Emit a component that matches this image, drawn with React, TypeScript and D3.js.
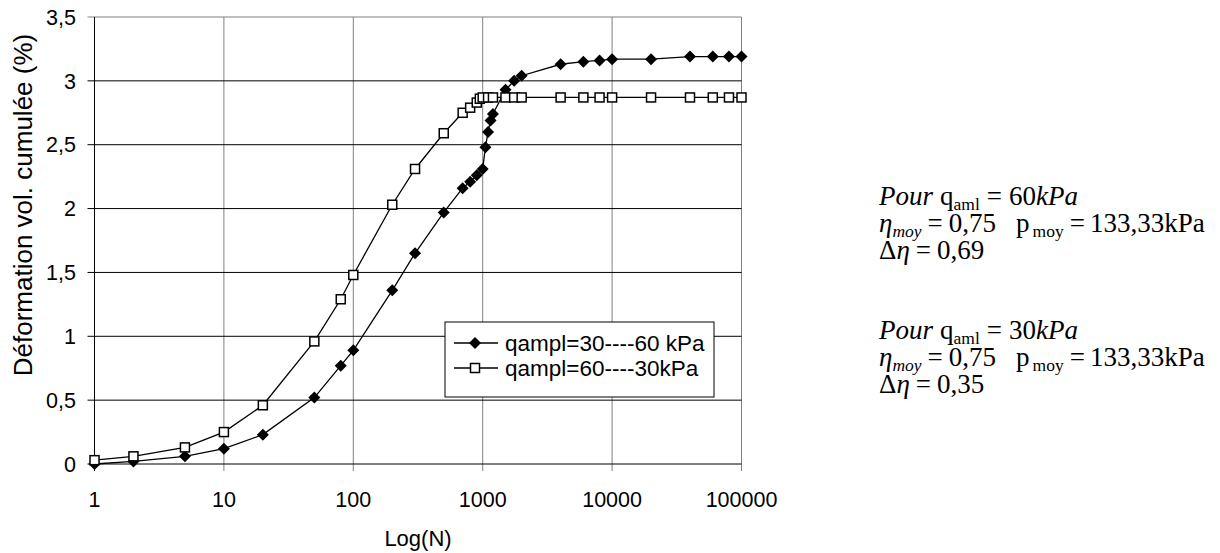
import React from "react";
import * as d3 from "d3";

const width = 1220;
const height = 553;
const plotLeft = 94.5;
const plotRight = 741.5;
const plotTop = 17;
const plotBottom = 464;

// qampl=30----60 kPa (filled diamonds)
const nA = [1, 2, 5, 10, 20, 50, 80, 100, 200, 300, 500, 700, 800, 900, 1000, 1050, 1100, 1150, 1200, 1500, 1750, 2000, 4000, 6000, 8000, 10000, 20000, 40000, 60000, 80000, 100000];
const vA = [0, 0.02, 0.06, 0.12, 0.23, 0.52, 0.77, 0.89, 1.36, 1.65, 1.97, 2.16, 2.21, 2.26, 2.31, 2.48, 2.6, 2.69, 2.74, 2.93, 3.0, 3.04, 3.13, 3.15, 3.16, 3.17, 3.17, 3.19, 3.19, 3.19, 3.19];

// qampl=60----30kPa (open squares)
const nB = [1, 2, 5, 10, 20, 50, 80, 100, 200, 300, 500, 700, 800, 900, 950, 1000, 1100, 1200, 1500, 1750, 2000, 4000, 6000, 8000, 10000, 20000, 40000, 60000, 80000, 100000];
const vB = [0.03, 0.06, 0.13, 0.25, 0.46, 0.96, 1.29, 1.48, 2.03, 2.31, 2.59, 2.75, 2.79, 2.83, 2.86, 2.87, 2.87, 2.87, 2.87, 2.87, 2.87, 2.87, 2.87, 2.87, 2.87, 2.87, 2.87, 2.87, 2.87, 2.87];

const xTicks = [1, 10, 100, 1000, 10000, 100000];
const yTicks = [0, 0.5, 1, 1.5, 2, 2.5, 3, 3.5];
const legendLabels = ["qampl=30----60 kPa", "qampl=60----30kPa"];

const sans = "'Liberation Sans', Arial, sans-serif";
const serif = "'Liberation Serif', 'Times New Roman', serif";

const Diamond = ({ cx, cy }: { cx: number; cy: number }) => (
  <path d={`M${cx},${cy - 6}L${cx + 6},${cy}L${cx},${cy + 6}L${cx - 6},${cy}Z`} fill="#000" />
);
const Square = ({ cx, cy }: { cx: number; cy: number }) => (
  <rect x={cx - 4.5} y={cy - 4.5} width={9} height={9} fill="#fff" stroke="#000" strokeWidth={1.5} />
);

const noteX = 879;
const noteFs = 27;
const subFs = 17.5;
const sub = 5;
const lineGap = 27;

// three-line annotation, equation-editor style
const Note = ({ y, q, d }: { y: number; q: string; d: string }) => (
  <text x={noteX} y={y} fontFamily={serif} fontSize={noteFs} fill="#000">
    <tspan fontStyle="italic">Pour</tspan>
    <tspan dx={7}>q</tspan>
    <tspan fontSize={subFs} dy={sub}>aml</tspan>
    <tspan dy={-sub} dx={7}>=</tspan>
    <tspan dx={7}>{q}</tspan>
    <tspan fontStyle="italic">kPa</tspan>
    <tspan x={noteX} dy={lineGap} fontStyle="italic">η</tspan>
    <tspan fontSize={subFs} dy={sub} fontStyle="italic">moy</tspan>
    <tspan dy={-sub} dx={6}>=</tspan>
    <tspan dx={6}>0,75</tspan>
    <tspan dx={20}>p</tspan>
    <tspan fontSize={subFs} dy={sub} dx={3}>moy</tspan>
    <tspan dy={-sub} dx={6}>=</tspan>
    <tspan dx={5}>133,33kPa</tspan>
    <tspan x={noteX} dy={lineGap}>Δ</tspan>
    <tspan fontStyle="italic">η</tspan>
    <tspan dx={6}>=</tspan>
    <tspan dx={6}>{d}</tspan>
  </text>
);

export default function App() {
  const x = d3.scaleLog().domain([1, 100000]).range([plotLeft, plotRight]);
  const y = d3.scaleLinear().domain([0, 3.5]).range([plotBottom, plotTop]);
  const line = d3
    .line<[number, number]>()
    .x((d) => x(d[0]))
    .y((d) => y(d[1]));
  const dataA = nA.map((n, i) => [n, vA[i]] as [number, number]);
  const dataB = nB.map((n, i) => [n, vB[i]] as [number, number]);

  const legX = 445;
  const legY = 322;

  return (
    <div style={{ position: "absolute", left: 0, top: 0 }}>
      <svg width={width} height={height} viewBox={`0 0 ${width} ${height}`} style={{ display: "block", background: "#fff" }}>
        {/* grid */}
        <g>
          {xTicks.slice(1).map((t) => (
            <line key={t} x1={x(t)} x2={x(t)} y1={plotTop} y2={plotBottom + 7} stroke="#808080" strokeWidth={1} />
          ))}
          {yTicks.slice(1).map((t) => (
            <line key={t} x1={plotLeft - 7} x2={plotRight} y1={y(t)} y2={y(t)} stroke={t === 3.5 ? "#808080" : "#000"} strokeWidth={1} />
          ))}
          <line x1={plotLeft} x2={plotLeft} y1={plotTop} y2={plotBottom + 7} stroke="#000" />
          <line x1={plotLeft - 7} x2={plotRight} y1={plotBottom} y2={plotBottom} stroke="#000" />
        </g>
        {/* axis labels */}
        <g fontFamily={sans} fontSize={21.5} fill="#000">
          {yTicks.map((t) => (
            <text key={t} x={76} y={y(t)} dy="0.36em" textAnchor="end">
              {String(t).replace(".", ",")}
            </text>
          ))}
          {xTicks.map((t) => (
            <text key={t} x={x(t)} y={507} textAnchor="middle">
              {t}
            </text>
          ))}
          <text x={418} y={546} textAnchor="middle" fontSize={22}>Log(N)</text>
          <text transform={`translate(32,205) rotate(-90)`} textAnchor="middle" fontSize={26}>
            Déformation vol. cumulée (%)
          </text>
        </g>
        {/* series */}
        <path d={line(dataA) ?? ""} fill="none" stroke="#000" strokeWidth={1.3} />
        <path d={line(dataB) ?? ""} fill="none" stroke="#000" strokeWidth={1.3} />
        {dataA.map((d, i) => (
          <Diamond key={i} cx={x(d[0])} cy={y(d[1])} />
        ))}
        {dataB.map((d, i) => (
          <Square key={i} cx={x(d[0])} cy={y(d[1])} />
        ))}
        {/* legend */}
        <rect x={legX} y={legY} width={269} height={75} fill="#fff" stroke="#000" strokeWidth={1} />
        {legendLabels.map((lab, i) => {
          const ly = legY + 21 + i * 25;
          return (
            <g key={lab}>
              <line x1={legX + 9} x2={legX + 53} y1={ly} y2={ly} stroke="#000" strokeWidth={1.3} />
              {i === 0 ? <Diamond cx={legX + 30} cy={ly} /> : <Square cx={legX + 30} cy={ly} />}
              <text x={legX + 60} y={ly} dy="0.36em" fontFamily={sans} fontSize={22.5}>
                {lab}
              </text>
            </g>
          );
        })}
        {/* notes */}
        <Note y={205} q="60" d="0,69" />
        <Note y={339} q="30" d="0,35" />
      </svg>
    </div>
  );
}
